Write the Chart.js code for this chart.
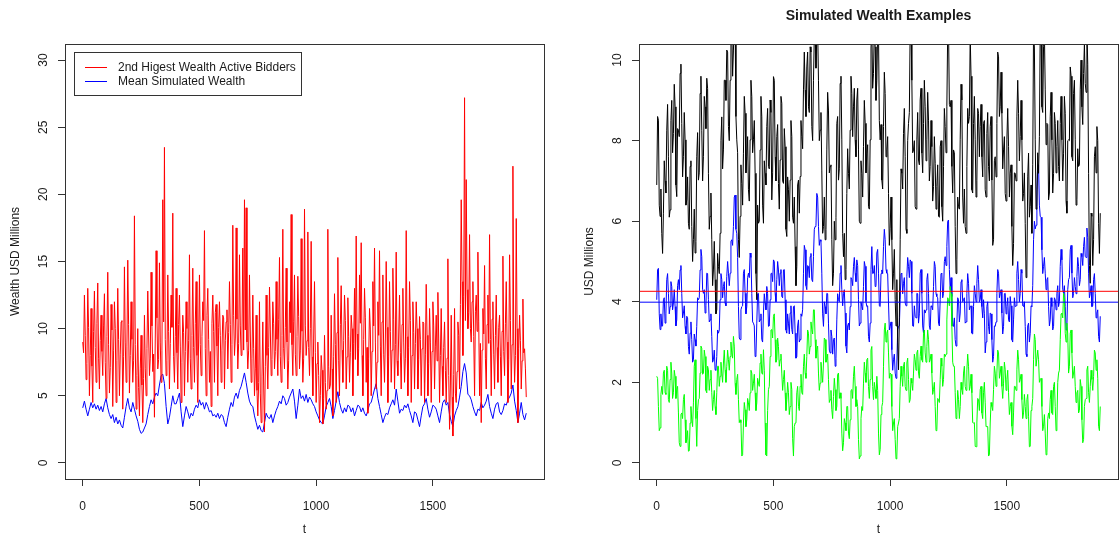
<!DOCTYPE html>
<html>
<head>
<meta charset="utf-8">
<script src="https://cdn.jsdelivr.net/npm/chart.js@4.4.1/dist/chart.umd.min.js"></script>
<style>
  body { margin: 0; background: #fff; }
  #wrap { position: relative; width: 1119px; height: 538px; }
  canvas { position: absolute; top: 0; }
</style>
</head>
<body>
<div id="wrap">
  <canvas id="left" width="560" height="538" style="left:0"></canvas>
  <canvas id="right" width="559" height="538" style="left:560px"></canvas>
</div>
<script>
const FONT = "'Liberation Sans', Arial, Helvetica, sans-serif";

// sample times (t axis, 1..1900), one value per sample
const t = Array.from({ length: 267 }, (_, i) => 1 + i * 1899 / 266);
// the noisy series get a sample in between as well
const tFine = Array.from({ length: 533 }, (_, i) => 1 + i * 1899 / 532);

const xTicks = [0, 500, 1000, 1500];
const leftYTicks = [0, 5, 10, 15, 20, 25, 30];
const rightYTicks = [0, 2, 4, 6, 8, 10];

// left panel: spikes / troughs of the red series
const highPeaks = [
  9.0, 12.5, 6.2, 13.0, 5.0, 11.5, 4.5, 12.8, 6.0, 13.4, 5.5, 11.0, 6.5, 12.6, 4.8, 14.2, 5.2, 11.8, 4.2, 12.0,
  4.5, 13.0, 5.0, 10.5, 4.0, 14.6, 6.0, 15.1, 5.2, 12.0, 6.0, 18.4, 4.0, 10.0, 3.5, 9.5, 3.0, 11.0, 5.0, 12.8,
  6.5, 14.2, 6.8, 3.4, 15.8, 7.0, 14.9, 6.0, 19.6, 23.5, 6.5, 14.0, 5.5, 12.5, 18.6, 6.0,
  13.0, 5.5, 12.5, 4.5, 11.0, 5.0, 12.0, 6.0, 15.5, 5.5, 14.5, 6.0, 13.5, 4.5, 14.0, 6.5, 12.0, 17.3, 5.0, 13.0,
  6.0, 4.2, 12.5, 6.0, 11.8, 5.0, 12.0, 6.0, 11.0, 5.5, 10.5, 7.0, 13.5, 6.0, 17.7, 8.0, 17.5, 7.0, 15.5, 8.0,
  16.0, 19.6, 19.0, 7.0, 14.0, 6.0, 12.5, 5.0, 11.0, 3.5, 12.0, 3.0, 10.5, 2.3, 12.5, 5.5, 13.1, 6.5, 12.0, 7.0,
  13.5, 6.5, 15.3, 6.0, 17.4, 7.0, 14.5, 5.5, 12.0, 18.5, 6.5, 14.0,
  6.5, 13.9, 7.0, 16.7, 6.0, 18.9, 8.0, 17.2, 6.5, 16.5, 5.0, 13.5, 4.5, 9.0, 3.0, 8.0, 2.9, 9.5, 4.0, 17.4,
  5.5, 11.0, 3.5, 12.6, 4.5, 15.3, 5.0, 13.2, 6.0, 12.5, 5.5, 12.3, 6.0, 11.0, 5.0, 13.0, 16.9, 6.5, 14.0, 16.4,
  5.0, 13.0, 6.0, 3.7, 11.5, 5.0, 13.5, 16.0, 5.5, 12.0, 15.8, 5.0, 14.0, 6.0, 15.0, 4.5, 13.5, 6.0, 14.5, 5.5,
  15.7, 6.5, 12.5, 5.5, 13.0, 6.0, 17.3, 5.0, 13.5, 4.5, 12.0, 5.5,
  12.0, 5.5, 10.9, 5.0, 10.5, 4.5, 13.3, 5.0, 11.5, 4.5, 12.0, 5.5, 11.0, 12.7, 4.5, 11.5, 5.0, 10.5, 4.5, 15.2,
  2.5, 11.0, 2.0, 11.5, 4.5, 10.5, 5.5, 19.6, 8.0, 27.2, 21.1, 10.0, 17.0, 9.0, 13.5, 5.0, 12.5, 15.7, 5.0, 3.0,
  11.5, 14.7, 5.5, 12.5, 17.0, 5.0, 12.0, 5.5, 12.5, 6.0, 11.0, 5.0, 15.4, 6.5, 13.5, 4.5, 15.5, 5.5, 22.1, 6.0,
  18.2, 3.0, 11.0, 5.5, 12.2, 8.5, 4.9
];
// left panel: values of the solid red core between those spikes
const highCore = [
  8.2, 9.5, 7.4, 10.1, 8.0, 7.2, 9.8, 8.6, 10.4, 7.8, 9.1, 8.3, 10.2, 7.5, 9.4, 8.8, 7.1, 9.9, 8.4, 10.0,
  7.6, 9.2, 8.1, 10.6, 7.9, 9.0, 8.7, 10.3,
  8.0, 9.2, 7.6, 8.8, 6.5, 5.6, 7.0, 5.8, 6.3, 7.0,
  8.5, 9.6, 7.8, 10.2, 8.1, 9.3, 10.8, 7.7, 9.0, 8.4, 10.5, 9.2, 7.6, 9.8, 8.9, 10.1, 7.9, 9.4, 8.2, 10.3,
  8.7, 7.5, 9.7, 8.3, 10.0, 9.1, 7.8, 9.5, 8.6, 10.4, 8.0, 9.3, 8.8,
  9.4, 10.6, 8.5, 11.0, 9.2, 8.3, 10.4, 9.8, 11.2, 8.7, 10.1, 9.5, 8.4, 10.8, 9.1, 11.4, 9.7, 10.3, 8.8, 11.0,
  9.3, 10.7, 8.9, 10.2, 9.6, 8.4, 9.9,
  9.0, 8.4, 9.6, 7.8, 8.5, 7.0, 5.4, 6.0, 5.2, 6.4, 5.8, 7.2, 8.0,
  8.6, 9.9, 7.7, 10.4, 8.3, 9.2, 10.7, 7.9, 9.5, 8.5, 10.1, 9.0, 7.6, 9.7, 8.8, 10.5, 8.1, 9.4, 10.9, 8.4,
  9.8, 7.8, 10.2, 9.1, 8.6, 10.0, 7.9, 9.3, 8.2, 7.4,
  6.5, 5.0, 6.9, 4.8, 6.0, 5.4, 7.2, 5.8, 7.0, 7.9,
  8.8, 9.7, 7.6, 10.3, 8.4, 9.1, 10.6, 7.9, 9.4, 8.2, 10.0, 8.9, 7.7, 9.6, 8.5, 10.4, 8.0, 9.2, 10.8, 8.6,
  7.8, 9.9, 8.3, 10.2, 9.0, 7.5, 9.5, 8.7, 10.5, 8.1, 9.3, 10.1, 7.9, 9.8, 8.4, 10.7, 8.8, 7.6, 9.6, 8.2,
  10.3, 9.0, 7.8, 9.4, 8.6, 10.6, 8.0, 9.7, 8.9, 10.0, 7.7, 9.2, 8.5, 10.4, 8.1, 9.5, 7.4, 9.0, 8.3, 10.2,
  8.7, 7.6, 9.3, 8.0, 7.2, 8.6, 6.9, 7.8, 6.5,
  5.8, 4.9, 6.6, 5.2, 6.8,
  9.5, 11.8, 13.5, 12.4, 10.6, 12.9, 11.2, 10.0, 12.0, 9.4, 11.3, 9.8, 10.5, 8.9,
  8.4, 9.6, 7.8, 10.3, 8.9, 9.2, 10.7, 8.1, 9.5, 8.6, 10.1, 7.9, 9.8, 8.3, 10.4, 9.0, 7.7, 10.6, 8.8, 9.3,
  8.0, 10.0, 8.5, 9.1, 7.6, 8.2, 7.0
];
const meanWealth = [
  4.1, 4.6, 4.0, 3.5, 4.0, 4.5, 4.1, 4.4, 4.0, 4.3, 3.9, 4.2, 3.8, 4.4, 4.8, 4.1, 3.6, 3.3, 3.6, 3.0,
  3.4, 2.9, 3.2, 2.8, 2.6, 3.4, 4.2, 4.8, 4.1, 3.8, 4.5, 4.0, 3.5, 3.1, 2.5, 2.2, 2.3, 2.6, 2.9, 3.6,
  4.2, 4.7, 4.4, 4.9, 5.2, 5.0, 5.8, 6.5, 6.6, 5.9, 4.2, 2.9, 3.4, 4.2, 5.0, 4.4,
  4.4, 4.8, 5.2, 3.8, 2.7, 3.5, 4.2, 3.8, 3.3, 3.7, 3.5, 4.0, 4.3, 4.1, 4.7, 4.3, 4.5, 4.0, 4.5, 4.2,
  3.8, 3.9, 3.5, 3.6, 3.4, 3.7, 3.3, 3.6, 3.5, 3.0, 2.7, 3.4, 4.0, 4.5, 4.2, 4.9, 5.2, 4.8, 5.4, 5.7,
  6.2, 6.7, 6.0, 5.2, 4.6, 4.3, 4.2, 3.5, 3.0, 2.5, 2.8, 2.4, 2.3, 3.0, 3.7, 3.4, 3.3, 3.6, 3.0, 3.5,
  3.9, 4.2, 4.6, 4.4, 5.0, 4.8, 4.3, 4.5, 4.9, 5.2, 5.5, 4.6,
  3.3, 4.3, 5.5, 4.8, 5.0, 4.6, 5.1, 4.5, 4.9, 4.7, 4.4, 4.2, 3.8, 3.5, 3.2, 3.0, 2.9, 3.5, 4.2, 4.5,
  4.8, 4.2, 3.3, 3.9, 4.6, 5.3, 4.5, 4.0, 3.7, 4.1, 3.8, 4.3, 4.2, 3.8, 4.1, 3.5, 3.9, 4.3, 4.2, 3.8,
  4.1, 3.7, 3.5, 3.9, 4.4, 4.5, 5.0, 5.5, 5.9, 4.8, 4.2, 3.6, 3.0, 3.4, 3.7, 3.6, 4.1, 4.4, 4.7, 4.3,
  5.5, 4.6, 3.7, 4.0, 3.9, 4.3, 4.1, 4.4, 3.9, 3.5, 3.0, 3.8,
  3.7, 3.2, 2.7, 3.5, 4.2, 4.4, 4.8, 4.0, 3.4, 3.8, 4.3, 4.2, 4.0, 3.5, 3.0, 3.8, 4.5, 4.7, 4.3, 4.5,
  3.6, 3.1, 2.7, 3.5, 3.9, 4.2, 4.9, 5.7, 6.8, 7.4, 6.7, 5.1, 5.0, 4.7, 4.2, 3.8, 3.5, 4.0, 3.9, 4.5,
  4.1, 4.3, 4.6, 5.1, 4.2, 3.7, 3.3, 4.0, 4.4, 4.5, 3.8, 3.6, 3.9, 4.4, 4.3, 4.7, 4.9, 5.2, 5.8, 4.6,
  3.9, 3.0, 3.7, 4.5, 3.6, 3.2, 3.7
];

// right panel, main samples and the wiggles in between
const blackMain = [
  6.90, 8.51, 6.12, 5.70, 6.20, 7.00, 8.26, 7.60, 6.28, 9.00, 8.18, 8.84, 6.61, 8.26, 9.67, 8.43, 7.60, 8.02, 6.53, 5.95,
  7.36, 5.87, 5.54, 5.21, 7.60, 7.02, 9.17, 8.26, 7.60, 8.84, 9.55, 7.19, 6.12, 5.54, 4.79, 4.55, 3.80, 4.88, 5.70, 8.59,
  7.77, 9.50, 10.25, 8.35, 9.50, 10.8, 10.25, 10.9, 8.02, 5.54, 6.12, 6.94, 7.69, 8.68, 7.60, 6.78, 8.02, 9.09, 8.02, 7.19,
  4.05, 5.95, 7.77, 8.59, 5.95, 7.19, 8.35, 7.36, 9.01, 6.53, 9.59, 7.60, 8.10, 6.94, 7.52, 8.93, 6.94, 7.85, 5.62, 6.78,
  7.02, 8.10, 5.95, 5.37, 4.88, 7.02, 7.11, 8.10, 9.26, 9.26, 9.83, 8.84, 10.33, 8.35, 9.50, 10.8, 10.6, 9.50, 8.26, 7.27,
  5.87, 5.54, 7.77, 8.76, 7.36, 5.54, 4.71, 5.54, 8.43, 7.02, 9.42, 8.02, 5.12, 4.55, 6.69, 7.19, 8.26, 9.17, 8.84, 8.02,
  9.01, 7.77, 5.95, 7.19, 7.85, 8.43, 7.69, 6.36, 8.02,
  10.8, 9.67, 10.33, 9.50, 10.7, 8.02, 7.02, 8.35, 9.17, 7.77, 6.69, 5.81, 5.54, 4.71, 4.05, 4.55, 2.31, 5.54, 7.19, 8.18,
  7.60, 5.70, 8.43, 10.8, 9.50, 7.77, 6.36, 8.02, 7.52, 9.01, 7.69, 8.43, 8.84, 8.02, 8.51, 7.36, 7.85, 6.86, 7.44, 6.86,
  6.12, 7.85, 6.36, 7.36, 8.35, 8.84, 10.8, 8.84, 7.36, 7.77, 5.87, 5.04, 6.36, 8.02, 9.01, 5.95, 5.87, 7.36, 8.43, 10.6,
  6.78, 8.43, 8.02, 7.02, 8.68, 8.35,
  7.60, 8.43, 6.78, 8.18, 7.36, 8.35, 7.02, 5.54, 7.60, 8.43, 10.08, 8.84, 8.68, 7.77, 6.69, 8.02, 7.85, 7.19, 5.87, 5.45,
  7.19, 8.59, 8.68, 8.10, 8.02, 6.69, 5.95, 4.79, 7.69, 6.36, 5.70, 10.8, 8.02, 6.36, 7.19, 10.8, 8.84, 10.33, 9.26, 8.43,
  6.53, 8.59, 8.02, 7.19, 8.43, 7.85, 7.36, 8.43, 8.02, 7.69, 8.68, 6.20, 8.02, 9.83, 7.60, 9.17, 8.02, 6.53, 7.36, 9.26,
  8.84, 9.67, 9.42, 10.8, 7.19, 4.46, 6.12, 5.54, 7.85, 8.35, 5.95, 6.20
];
const blackMid = [
  8.6, 6.4, 6.8, 5.2, 7.5, 6.7, 8.9, 6.1, 8.5, 7.7, 9.4, 6.9, 8.3, 8.1, 9.9, 7.1, 8.7, 6.4, 7.1, 5.8,
  7.5, 5.0, 6.3, 5.5, 8.2, 7.2, 9.6, 7.0, 9.1, 8.3, 9.3, 5.8, 6.7, 4.4, 5.5, 3.7, 5.2, 4.7, 8.0, 7.3,
  9.5, 9.0, 10.2, 8.0, 10.7, 9.6, 11.0, 8.6, 7.7, 5.1, 7.4, 6.4, 9.1, 7.2, 8.1, 6.5, 9.5, 7.7, 8.5, 4.7,
  6.4, 6.0, 9.1, 6.4, 7.5, 6.9, 8.8, 7.3, 8.7, 7.2, 9.5, 7.0, 8.4, 6.3, 9.1, 7.0, 8.3, 5.8, 7.1, 6.0,
  8.5, 6.1, 6.6, 4.4, 6.9, 6.2, 8.5, 7.8, 10.2, 8.6, 10.2, 8.7, 10.2, 8.0, 10.6, 9.8, 10.8, 8.0, 8.7, 5.7,
  6.6, 5.8, 9.2, 7.2, 7.4, 4.4, 6.0, 6.1, 8.6, 7.3, 9.6, 5.7, 5.7, 4.8, 7.8, 6.8, 9.6, 8.1, 9.3, 7.6,
  9.3, 6.0, 7.5, 6.6, 9.0, 7.2, 7.9, 6.3, 10.3,
  9.3, 10.8, 9.0, 10.7, 8.5, 8.4, 6.8, 9.7, 7.6, 8.1, 5.4, 6.6, 4.3, 5.3, 3.4, 3.0, 3.6, 7.3, 6.8, 8.8,
  5.8, 8.0, 8.7, 10.8, 7.7, 8.0, 6.3, 8.7, 7.4, 9.3, 7.2, 9.5, 7.5, 9.2, 7.0, 8.5, 6.5, 8.1, 6.3, 7.4,
  6.1, 8.0, 6.0, 8.8, 7.7, 10.7, 8.9, 9.0, 6.7, 7.7, 4.7, 6.6, 6.3, 9.4, 6.6, 6.8, 5.7, 8.8, 8.6, 9.6,
  6.7, 9.1, 6.6, 8.8, 7.6, 8.9,
  7.1, 8.5, 6.6, 8.7, 7.0, 8.6, 5.4, 7.5, 7.1, 10.2, 8.6, 9.7, 7.3, 8.1, 6.5, 8.8, 6.6, 7.4, 4.9, 7.2,
  7.0, 9.5, 7.5, 9.0, 6.5, 7.2, 4.6, 7.1, 6.1, 6.9, 7.4, 10.3, 6.3, 7.7, 8.1, 10.7, 8.7, 10.7, 7.9, 8.4,
  6.7, 9.2, 6.7, 8.7, 7.2, 8.5, 7.0, 9.1, 7.0, 9.1, 6.5, 8.0, 8.0, 9.6, 7.5, 9.5, 6.4, 7.8, 7.4, 10.0,
  8.4, 10.4, 9.2, 9.9, 4.9, 6.2, 4.9, 7.6, 7.2, 8.0, 5.2
];
const blueMain = [
  4.05, 4.83, 3.31, 3.39, 4.05, 3.47, 4.55, 4.21, 3.88, 4.38, 3.97, 3.88, 3.55, 4.55, 4.79, 4.21, 3.72, 3.39, 3.64, 2.89,
  3.22, 3.06, 2.56, 3.06, 3.39, 4.05, 4.79, 5.12, 4.21, 3.72, 4.71, 4.05, 3.55, 3.14, 2.56, 2.31, 2.64, 3.22, 4.05, 4.55,
  4.38, 3.97, 4.63, 4.71, 4.71, 5.54, 5.87, 6.65, 5.70, 3.88, 3.06, 3.88, 4.71, 4.21, 3.88, 4.71, 5.21, 4.21, 3.47, 2.64,
  3.47, 4.21, 3.55, 3.06, 3.72, 3.97, 4.38, 3.39, 4.05, 4.71, 5.04, 4.21, 4.55, 4.79, 4.71, 4.13, 4.79, 4.05, 3.22, 3.47,
  3.72, 3.31, 3.88, 3.22, 2.64, 3.55, 3.06, 3.64, 4.71, 5.29, 4.30, 4.88, 5.12, 4.55, 5.12, 5.87, 6.69, 5.87, 5.54, 4.71,
  3.39, 3.88, 4.21, 3.47, 2.73, 3.14, 3.06, 2.40, 3.55, 4.05, 4.71, 4.30, 4.21, 3.72, 2.73, 3.47, 3.88, 4.55, 4.88, 4.71,
  5.04, 4.05, 3.47, 3.88, 4.38, 4.88, 3.88, 3.14, 3.47,
  5.37, 4.71, 4.38, 5.21, 4.71, 3.88, 4.79, 5.37, 5.54, 4.71, 3.97, 3.39, 2.81, 2.56, 2.23, 2.48, 3.39, 4.05, 4.71, 4.46,
  3.97, 4.63, 4.88, 5.04, 4.21, 3.39, 3.64, 4.21, 3.47, 4.71, 4.21, 3.22, 3.72, 4.55, 4.21, 3.31, 3.88, 4.38, 4.88, 4.13,
  3.47, 4.05, 4.71, 4.21, 5.12, 5.37, 6.03, 4.30, 4.13, 3.39, 3.06, 3.47, 4.05, 3.72, 4.55, 4.05, 3.47, 4.21, 4.46, 3.88,
  3.22, 3.88, 4.21, 4.46, 4.55, 4.05,
  3.88, 4.05, 2.73, 3.88, 3.39, 3.72, 3.06, 2.64, 3.39, 4.21, 4.71, 4.21, 3.72, 3.39, 4.21, 3.88, 3.55, 4.13, 3.06, 3.55,
  3.88, 4.71, 4.55, 4.21, 4.71, 3.88, 3.39, 2.64, 3.47, 3.22, 3.88, 5.54, 5.81, 6.78, 7.40, 6.12, 5.29, 4.88, 4.71, 4.55,
  3.88, 3.55, 3.88, 3.39, 4.05, 4.21, 3.88, 4.88, 5.04, 4.21, 3.88, 3.39, 4.55, 5.29, 4.71, 4.21, 4.38, 4.63, 4.88, 4.55,
  5.12, 5.37, 5.12, 5.83, 4.71, 4.21, 3.88, 4.55, 4.21, 3.72, 3.14, 3.64
];
const blueMid = [
  4.8, 3.7, 3.7, 3.4, 4.1, 3.7, 4.7, 3.7, 4.5, 3.8, 4.3, 3.4, 4.4, 4.3, 4.9, 3.6, 3.9, 3.2, 3.6, 2.7,
  3.5, 2.5, 3.2, 2.9, 4.1, 4.1, 5.3, 4.3, 4.3, 3.9, 4.7, 3.5, 3.7, 2.5, 2.8, 2.3, 3.3, 3.3, 4.7, 4.1,
  4.5, 3.9, 5.0, 4.4, 5.5, 5.4, 6.6, 5.8, 5.1, 3.1, 3.8, 3.9, 4.8, 3.7, 4.6, 4.6, 5.1, 3.5, 3.4, 2.7,
  4.2, 3.5, 3.7, 3.0, 4.2, 3.8, 4.2, 3.4, 4.7, 4.5, 5.0, 4.0, 5.0, 4.4, 4.8, 4.1, 4.8, 3.3, 3.7, 3.2,
  3.9, 3.2, 3.9, 2.6, 3.4, 3.0, 3.7, 3.8, 5.4, 4.4, 4.9, 4.6, 5.2, 4.5, 5.8, 5.9, 6.6, 5.4, 5.5, 3.7,
  4.0, 3.7, 4.2, 2.8, 3.3, 2.7, 3.1, 2.6, 4.2, 4.0, 4.9, 3.9, 4.3, 2.9, 3.4, 3.3, 4.6, 4.4, 5.1, 4.5,
  4.9, 3.4, 4.0, 3.8, 5.0, 4.0, 3.9, 3.0, 4.8,
  4.7, 4.9, 4.4, 5.3, 3.9, 4.7, 4.7, 5.8, 4.8, 4.7, 3.3, 3.5, 2.3, 2.7, 2.1, 3.3, 3.4, 4.7, 4.2, 4.6,
  3.9, 5.1, 4.6, 5.0, 3.4, 3.9, 3.6, 4.2, 3.7, 4.8, 3.4, 3.8, 3.8, 4.7, 3.4, 3.9, 3.8, 5.0, 4.2, 4.1,
  3.4, 4.7, 4.1, 5.0, 4.9, 6.0, 4.8, 4.6, 3.4, 3.6, 2.9, 4.1, 3.5, 4.5, 4.0, 4.1, 3.5, 4.7, 3.8, 3.9,
  3.2, 4.4, 4.0, 4.9, 4.0, 4.3,
  3.6, 3.7, 3.0, 4.0, 3.2, 3.7, 2.5, 3.4, 3.5, 4.8, 4.1, 4.3, 3.2, 4.2, 3.7, 4.1, 3.5, 3.9, 3.0, 4.1,
  3.9, 5.0, 4.0, 4.8, 3.9, 4.0, 2.7, 3.4, 3.0, 3.9, 4.4, 6.0, 5.9, 7.4, 6.4, 6.1, 4.7, 5.1, 4.3, 4.6,
  3.4, 4.1, 3.3, 4.1, 3.8, 4.4, 4.0, 5.3, 4.3, 4.4, 3.3, 4.3, 4.6, 5.4, 4.1, 4.6, 4.2, 5.1, 4.4, 5.2,
  4.9, 5.6, 5.1, 5.6, 4.1, 4.4, 3.9, 4.7, 3.6, 3.8, 3.0
];
const greenMain = [
  2.15, 1.40, 0.87, 1.90, 2.23, 1.74, 2.40, 1.57, 2.07, 2.23, 1.74, 2.15, 1.82, 1.24, 0.41, 1.24, 1.57, 1.07, 0.58, 0.29,
  0.99, 1.07, 1.49, 2.56, 0.41, 1.57, 2.23, 2.85, 2.23, 2.64, 1.74, 2.31, 2.07, 1.74, 1.57, 1.40, 1.74, 2.40, 2.15, 2.23,
  2.48, 2.31, 2.40, 2.56, 2.64, 2.73, 3.14, 1.98, 2.07, 1.57, 1.07, 0.17, 0.99, 1.32, 1.07, 1.49, 1.74, 2.23, 1.98, 1.74,
  1.49, 1.98, 2.48, 2.23, 2.81, 0.99, 0.17, 1.82, 2.64, 3.31, 3.64, 3.06, 2.56, 2.89, 2.56, 2.23, 2.07, 1.74, 1.57, 1.74,
  1.40, 1.82, 0.17, 0.99, 1.74, 1.40, 1.90, 1.74, 2.40, 2.23, 2.64, 3.22, 2.89, 3.31, 3.80, 3.06, 2.81, 2.23, 1.98, 2.23,
  2.48, 3.06, 2.56, 2.07, 1.57, 1.32, 1.65, 1.82, 1.40, 2.23, 1.74, 0.74, 0.50, 0.99, 1.40, 0.74, 1.07, 1.82, 2.15, 1.90,
  1.57, 0.58, 0.17, 1.40, 1.98, 2.23, 2.56, 1.90, 2.07,
  2.89, 1.57, 1.82, 2.15, 0.74, 0.33, 1.40, 2.40, 3.47, 3.22, 2.73, 2.23, 1.40, 0.99, 0.58, 0.17, 0.99, 1.90, 2.15, 2.40,
  1.90, 2.48, 2.07, 1.57, 1.98, 2.23, 2.56, 2.73, 2.23, 2.64, 2.56, 3.22, 2.73, 2.89, 3.06, 2.56, 2.23, 1.82, 1.40, 0.83,
  1.57, 2.07, 2.40, 2.07, 2.64, 3.55, 4.05, 4.38, 3.39, 2.40, 1.74, 1.24, 1.57, 1.40, 1.82, 2.23, 1.90, 2.31, 2.40, 1.90,
  1.74, 0.99, 0.41, 0.99, 1.57, 1.82,
  1.24, 1.74, 1.49, 0.91, 0.17, 0.99, 1.40, 1.82, 2.23, 2.23, 2.73, 2.23, 1.90, 1.98, 2.31, 2.07, 1.74, 1.40, 0.91, 1.24,
  1.90, 2.31, 2.56, 2.07, 1.57, 1.24, 1.40, 1.57, 1.16, 0.41, 1.40, 2.56, 3.06, 2.40, 2.56, 2.07, 1.40, 0.91, 0.74, 0.25,
  1.24, 1.57, 1.24, 1.90, 1.40, 0.99, 2.23, 3.06, 3.72, 4.21, 3.22, 3.47, 2.23, 3.22, 2.73, 2.23, 1.90, 1.74, 1.24, 2.07,
  1.07, 0.58, 1.57, 2.31, 1.74, 1.90, 2.07, 2.15, 2.73, 2.56, 0.91, 1.40
];
const greenMid = [
  2.1, 0.8, 1.7, 1.7, 2.3, 1.7, 2.3, 1.5, 2.5, 1.6, 2.3, 1.6, 1.9, 0.5, 1.2, 1.1, 1.7, 0.5, 0.8, 0.3,
  1.4, 0.9, 2.4, 1.1, 1.3, 1.6, 2.9, 2.2, 2.8, 1.8, 2.4, 1.8, 2.3, 1.3, 1.8, 1.2, 2.4, 1.9, 2.5, 2.0,
  2.8, 2.0, 2.8, 2.3, 3.0, 2.6, 2.9, 1.7, 2.2, 1.0, 1.0, 0.2, 1.5, 0.9, 1.6, 1.3, 2.3, 1.8, 2.2, 1.3,
  2.1, 1.9, 2.7, 2.2, 2.3, 0.2, 1.3, 1.9, 3.3, 3.1, 3.7, 2.5, 3.1, 2.4, 2.7, 1.8, 2.3, 1.3, 2.0, 1.2,
  2.0, 0.6, 0.9, 1.0, 1.9, 1.3, 2.2, 1.7, 2.7, 2.1, 3.3, 2.7, 3.5, 3.2, 3.8, 2.6, 2.9, 1.8, 2.5, 2.0,
  3.1, 2.5, 2.7, 1.5, 1.8, 1.1, 2.1, 1.3, 2.2, 1.6, 1.6, 0.3, 1.1, 0.8, 1.4, 0.6, 1.8, 1.6, 2.4, 1.4,
  1.4, 0.1, 1.1, 1.3, 2.5, 2.0, 2.6, 1.6, 2.8,
  1.9, 2.0, 1.6, 1.8, 0.2, 1.2, 1.5, 3.3, 3.0, 3.3, 2.1, 2.2, 0.8, 1.1, 0.1, 0.9, 1.1, 2.4, 1.9, 2.5,
  1.8, 2.6, 1.5, 2.1, 1.8, 2.7, 2.3, 2.8, 2.1, 2.9, 2.5, 3.3, 2.5, 3.3, 2.5, 2.7, 1.7, 2.0, 0.8, 1.6,
  1.5, 2.6, 1.9, 2.7, 2.7, 4.1, 3.9, 4.2, 2.5, 2.4, 1.1, 1.8, 1.1, 2.0, 1.7, 2.4, 1.8, 2.7, 1.8, 2.2,
  1.0, 1.0, 0.4, 1.6, 1.3, 1.9,
  1.1, 2.0, 0.9, 0.9, 0.2, 1.5, 1.3, 2.4, 1.9, 2.8, 2.1, 2.4, 1.6, 2.5, 1.8, 2.3, 1.2, 1.5, 0.7, 1.9,
  1.8, 2.8, 2.0, 2.2, 1.1, 1.7, 1.1, 1.7, 0.4, 1.3, 1.6, 3.2, 2.4, 2.8, 2.0, 2.1, 0.8, 1.2, 0.2, 1.1,
  1.1, 1.8, 1.2, 2.0, 0.8, 2.0, 2.3, 3.7, 3.6, 4.1, 3.0, 3.2, 2.4, 3.3, 2.1, 2.4, 1.5, 1.8, 1.3, 1.9,
  0.5, 1.4, 1.6, 2.4, 1.5, 2.3, 1.8, 2.8, 2.3, 2.1, 0.8
];
const redLevel = 4.26;
const blueLevel = 3.99;

const leftLegend = [
  { label: '2nd Higest Wealth Active Bidders', color: '#ff0000' },
  { label: 'Mean Simulated Wealth', color: '#0000ff' }
];

// main samples and in-between samples alternate along the fine t grid
function interleave(main, mid) {
  return main.flatMap((v, i) => i < mid.length ? [v, mid[i]] : [v]);
}
const onFine = arr => arr.map((y, i) => ({ x: tFine[i], y }));

const secondHighest = interleave(highPeaks, highCore);
const simBlack = interleave(blackMain, blackMid);
const simBlue = interleave(blueMain, blueMid);
const simGreen = interleave(greenMain, greenMid);

// draws the R-style frame, rotated y labels, axis titles, title and legend
const frame = {
  id: 'frame',
  afterDraw(chart, args, o) {
    const { ctx, chartArea: a } = chart;
    const ys = chart.scales.y;
    ctx.save();
    ctx.strokeStyle = '#333';
    ctx.lineWidth = 1;
    ctx.strokeRect(a.left + 0.5, a.top + 0.5, a.right - a.left, a.bottom - a.top);

    ctx.fillStyle = '#1a1a1a';
    ctx.font = '12px ' + FONT;
    ctx.textAlign = 'center';
    ctx.textBaseline = 'middle';
    o.yTicks.forEach(v => {
      ctx.save();
      ctx.translate(a.left - 21.5, ys.getPixelForValue(v));
      ctx.rotate(-Math.PI / 2);
      ctx.fillText(String(v), 0, 0);
      ctx.restore();
    });
    ctx.save();
    ctx.translate(a.left - 49, (a.top + a.bottom) / 2);
    ctx.rotate(-Math.PI / 2);
    ctx.fillText(o.yTitle, 0, 0);
    ctx.restore();
    ctx.fillText('t', (a.left + a.right) / 2, a.bottom + 51);

    if (o.title) {
      ctx.font = 'bold 14px ' + FONT;
      ctx.fillText(o.title, (a.left + a.right) / 2, 16.5);
    }

    if (o.showLegend) {
      ctx.strokeStyle = '#333';
      ctx.strokeRect(74.5, 52.5, 227, 43);
      ctx.font = '12px ' + FONT;
      ctx.textAlign = 'left';
      leftLegend.forEach((item, i) => {
        const y = 67.5 + i * 14;
        ctx.strokeStyle = item.color;
        ctx.beginPath();
        ctx.moveTo(85, y);
        ctx.lineTo(107, y);
        ctx.stroke();
        ctx.fillText(item.label, 118, y);
      });
    }
    ctx.restore();
  }
};

function axes(yMin, yMax, yTicks, yWidth) {
  const grid = { drawOnChartArea: false, drawTicks: true, tickLength: 7, color: '#333' };
  return {
    x: {
      type: 'linear', min: -75, max: 1976,
      afterBuildTicks: s => { s.ticks = xTicks.map(v => ({ value: v })); },
      afterFit: s => { s.height = 59; },
      ticks: { font: { size: 12, family: FONT }, color: '#1a1a1a', padding: 13, maxRotation: 0, autoSkip: false, callback: v => String(v) },
      grid, border: { display: false }
    },
    y: {
      type: 'linear', min: yMin, max: yMax,
      afterBuildTicks: s => { s.ticks = yTicks.map(v => ({ value: v })); },
      afterFit: s => { s.width = yWidth; },
      ticks: { display: false },
      grid, border: { display: false }
    }
  };
}

function line(label, data, color) {
  return { label, data, borderColor: color, borderWidth: 1, pointRadius: 0, tension: 0, fill: false };
}

new Chart(document.getElementById('left'), {
  type: 'line',
  data: {
    labels: t,
    datasets: [
      line(leftLegend[0].label, onFine(secondHighest), leftLegend[0].color),
      line(leftLegend[1].label, meanWealth, leftLegend[1].color)
    ]
  },
  options: {
    responsive: false, animation: false,
    layout: { padding: { top: 44, right: 16, left: 0, bottom: 0 } },
    scales: axes(-1.2, 31.2, leftYTicks, 65),
    plugins: {
      legend: { display: false }, tooltip: { enabled: false },
      frame: { yTicks: leftYTicks, yTitle: 'Wealth USD Millions', showLegend: true }
    }
  },
  plugins: [frame]
});

new Chart(document.getElementById('right'), {
  type: 'line',
  data: {
    labels: t,
    datasets: [
      line('level red', [{ x: -200, y: redLevel }, { x: 2200, y: redLevel }], '#ff0000'),
      line('level blue', [{ x: -200, y: blueLevel }, { x: 2200, y: blueLevel }], '#0000ff'),
      line('green', onFine(simGreen), '#00ff00'),
      line('black', onFine(simBlack), '#000000'),
      line('blue', onFine(simBlue), '#0000ff')
    ]
  },
  options: {
    responsive: false, animation: false,
    layout: { padding: { top: 44, right: 1, left: 0, bottom: 0 } },
    scales: axes(-0.4, 10.4, rightYTicks, 79),
    plugins: {
      legend: { display: false }, tooltip: { enabled: false },
      frame: { yTicks: rightYTicks, yTitle: 'USD Millions', title: 'Simulated Wealth Examples', showLegend: false }
    }
  },
  plugins: [frame]
});
</script>
</body>
</html>
